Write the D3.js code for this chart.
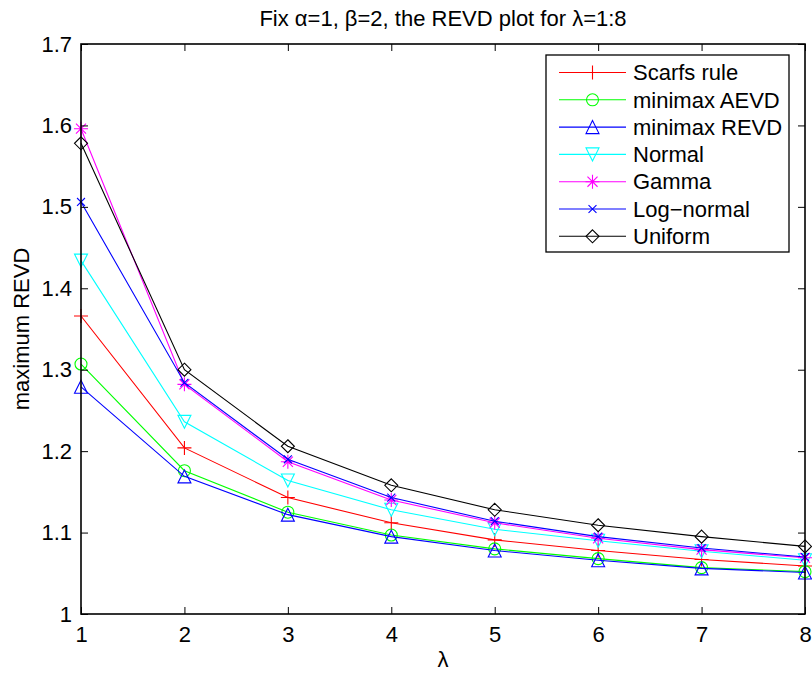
<!DOCTYPE html>
<html>
<head>
<meta charset="utf-8">
<script src="https://cdn.jsdelivr.net/npm/d3@7"></script>
<style>
  html, body { margin: 0; padding: 0; background: #fff; }
  svg { display: block; font-family: "Liberation Sans", Arial, Helvetica, sans-serif; }
</style>
</head>
<body>
<svg id="chart" width="812" height="675"></svg>
<script>
// ---- data ----
const lambdas = [1, 2, 3, 4, 5, 6, 7, 8];
const seriesNames = ["Scarfs rule", "minimax AEVD", "minimax REVD", "Normal", "Gamma", "Log\u2212normal", "Uniform"];
const scarfs    = [1.366, 1.204, 1.143, 1.112, 1.091, 1.078, 1.067, 1.059];
const aevd      = [1.307, 1.176, 1.125, 1.097, 1.080, 1.068, 1.057, 1.052];
const revd      = [1.279, 1.169, 1.122, 1.095, 1.078, 1.066, 1.056, 1.051];
const normal    = [1.434, 1.236, 1.164, 1.128, 1.104, 1.090, 1.077, 1.066];
const gamma     = [1.596, 1.282, 1.187, 1.140, 1.112, 1.093, 1.079, 1.069];
const lognormal = [1.506, 1.284, 1.190, 1.143, 1.114, 1.095, 1.081, 1.070];
const uniform   = [1.578, 1.300, 1.206, 1.158, 1.128, 1.109, 1.095, 1.083];
const xTicks = [1, 2, 3, 4, 5, 6, 7, 8];
const yTicks = [1, 1.1, 1.2, 1.3, 1.4, 1.5, 1.6, 1.7];
const colors = ["#ff0000", "#00ff00", "#0000ff", "#00ffff", "#ff00ff", "#0000ff", "#000000"];
const markers = ["plus", "circle", "triUp", "triDown", "star", "cross", "diamond"];
const allSeries = [scarfs, aevd, revd, normal, gamma, lognormal, uniform];

// ---- layout ----
const svg = d3.select("#chart");
const L = 81, R = 805, T = 44, B = 614;
const FS = 22;
const x = d3.scaleLinear().domain([1, 8]).range([L, R]);
const y = d3.scaleLinear().domain([1, 1.7]).range([B, T]);

svg.append("rect").attr("width", 812).attr("height", 675).attr("fill", "#fff");

// marker path generator (centered at 0,0)
function markerPath(type, s) {
  const h = s / 2;
  switch (type) {
    case "plus": return `M${-h},0H${h}M0,${-h}V${h}`;
    case "cross": { const k = h * 0.72; return `M${-k},${-k}L${k},${k}M${-k},${k}L${k},${-k}`; }
    case "star": { const k = h * 0.72; return `M${-h},0H${h}M0,${-h}V${h}M${-k},${-k}L${k},${k}M${-k},${k}L${k},${-k}`; }
    case "circle": return d3.arc()({innerRadius: 0, outerRadius: h, startAngle: 0, endAngle: 2 * Math.PI});
    case "triUp": return `M0,${-h}L${h},${h}L${-h},${h}Z`;
    case "triDown": return `M0,${h}L${h},${-h}L${-h},${-h}Z`;
    case "diamond": return `M0,${-h}L${h},0L0,${h}L${-h},0Z`;
  }
}
function markerSize(type) {
  return {plus: 14, cross: 11, star: 14, circle: 12, triUp: 13, triDown: 13, diamond: 13}[type];
}

// ---- lines & markers ----
const plot = svg.append("g");
const line = d3.line().x((d, i) => x(lambdas[i])).y(d => y(d));
allSeries.forEach((vals, si) => {
  plot.append("path").datum(vals)
    .attr("d", line).attr("fill", "none")
    .attr("stroke", colors[si]).attr("stroke-width", 1.1);
  plot.selectAll(null).data(vals).enter().append("path")
    .attr("transform", (d, i) => `translate(${x(lambdas[i])},${y(d)})`)
    .attr("d", markerPath(markers[si], markerSize(markers[si])))
    .attr("fill", "none").attr("stroke", colors[si]).attr("stroke-width", 1.1);
});

// ---- axes (box with inward ticks) ----
const axG = svg.append("g");
const tickLen = 7;
const xAxisB = d3.axisBottom(x).tickValues(xTicks).tickSizeInner(-tickLen).tickSizeOuter(0).tickPadding(12).tickFormat(d3.format("d"));
const xAxisT = d3.axisTop(x).tickValues(xTicks).tickSizeInner(-tickLen).tickSizeOuter(0).tickFormat("");
const yAxisL = d3.axisLeft(y).tickValues(yTicks).tickSizeInner(-tickLen).tickSizeOuter(0).tickPadding(9).tickFormat(d => d3.format("")(+d.toFixed(1)));
const yAxisR = d3.axisRight(y).tickValues(yTicks).tickSizeInner(-tickLen).tickSizeOuter(0).tickFormat("");

function styleAxis(g) {
  g.select(".domain").remove();
  g.selectAll(".tick line").attr("stroke", "#000").attr("stroke-width", 1);
  g.selectAll(".tick text").attr("fill", "#000").attr("font-size", FS).attr("font-family", "Liberation Sans, Arial, sans-serif");
}
axG.append("g").attr("transform", `translate(0,${B})`).call(xAxisB).call(styleAxis);
axG.append("g").attr("transform", `translate(0,${T})`).call(xAxisT).call(styleAxis);
axG.append("g").attr("transform", `translate(${L},0)`).call(yAxisL).call(styleAxis);
axG.append("g").attr("transform", `translate(${R},0)`).call(yAxisR).call(styleAxis);
axG.append("rect").attr("x", L).attr("y", T).attr("width", R - L).attr("height", B - T)
  .attr("fill", "none").attr("stroke", "#000").attr("stroke-width", 1.6);

// ---- titles ----
svg.append("text").attr("x", (L + R) / 2).attr("y", 26).attr("text-anchor", "middle")
  .attr("font-size", FS).text("Fix \u03b1=1, \u03b2=2, the REVD plot for \u03bb=1:8");
svg.append("text").attr("x", (L + R) / 2).attr("y", 667).attr("text-anchor", "middle")
  .attr("font-size", FS).text("\u03bb");
svg.append("text").attr("transform", `translate(29,${(T + B) / 2}) rotate(-90)`).attr("text-anchor", "middle")
  .attr("font-size", FS).text("maximum REVD");

// ---- legend ----
const lg = svg.append("g");
const lgX = 546, lgY = 55, lgW = 243, lgH = 197;
lg.append("rect").attr("x", lgX).attr("y", lgY).attr("width", lgW).attr("height", lgH)
  .attr("fill", "#fff").attr("stroke", "#000").attr("stroke-width", 1.3);
seriesNames.forEach((name, i) => {
  const yy = lgY + 17.5 + i * 27.3;
  lg.append("line").attr("x1", 559).attr("x2", 626).attr("y1", yy).attr("y2", yy)
    .attr("stroke", colors[i]).attr("stroke-width", 1.1);
  lg.append("path").attr("transform", `translate(592.5,${yy})`)
    .attr("d", markerPath(markers[i], markerSize(markers[i])))
    .attr("fill", "none").attr("stroke", colors[i]).attr("stroke-width", 1.1);
  lg.append("text").attr("x", 633).attr("y", yy).attr("dy", "0.35em")
    .attr("font-size", FS).text(name);
});
</script>
</body>
</html>
